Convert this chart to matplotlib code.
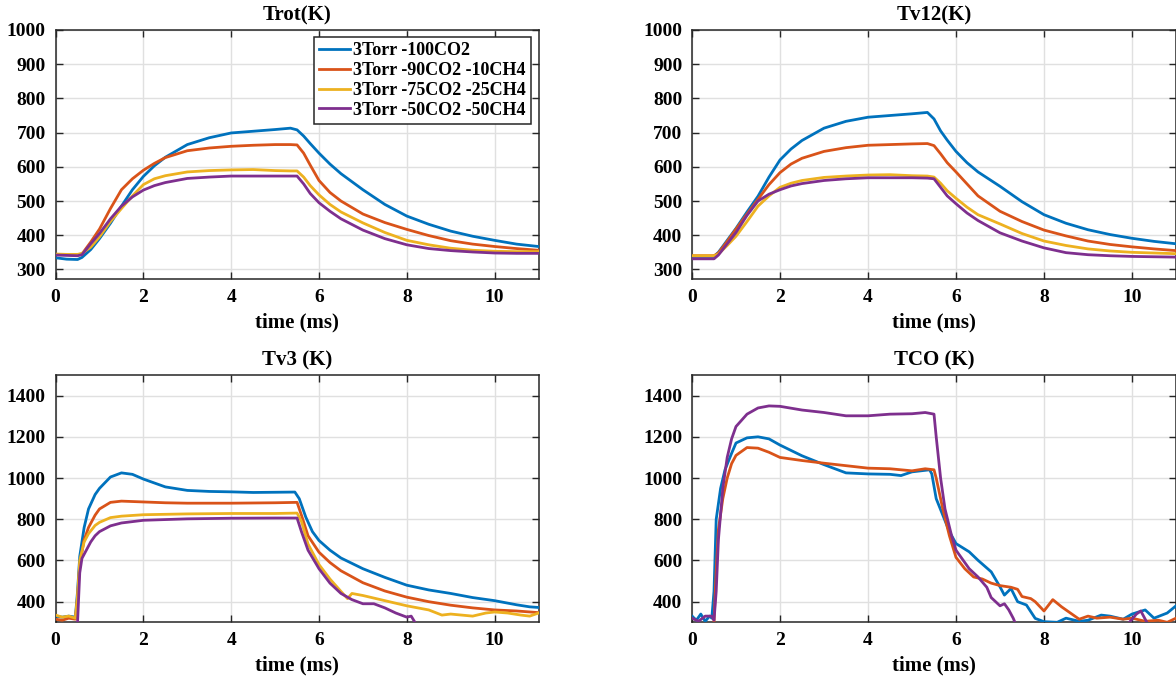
import matplotlib
matplotlib.use("Agg")
import matplotlib.pyplot as plt
import numpy as np

plt.rcParams['font.family'] = ['Liberation Serif', 'DejaVu Serif']
plt.rcParams['font.weight'] = 'bold'

labels = ["3Torr -100CO2", "3Torr -90CO2 -10CH4", "3Torr -75CO2 -25CH4", "3Torr -50CO2 -50CH4"]
colors = ["#0072BD", "#D95319", "#EDB120", "#7E2F8E"]

# ---------------- Trot(K) ----------------
t_rot = [0, 0.25, 0.5, 0.6, 0.8, 1.0, 1.25, 1.5, 1.75, 2.0, 2.25, 2.5, 3.0, 3.5, 4.0, 4.5, 5.0, 5.35,
         5.5, 5.65, 5.8, 6.0, 6.25, 6.5, 7.0, 7.5, 8.0, 8.5, 9.0, 9.5, 10.0, 10.5, 11.0]
rot_100 = [334, 330, 329, 335, 358, 390, 435, 485, 533, 572, 603, 628, 665, 685, 699, 704, 709, 713,
           708, 690, 668, 640, 608, 580, 533, 490, 456, 432, 412, 397, 385, 374, 367]
rot_90 = [344, 343, 343, 345, 380, 418, 478, 533, 565, 590, 610, 627, 647, 655, 660, 663, 665, 665,
          664, 640, 605, 560, 525, 500, 462, 437, 417, 399, 384, 374, 367, 361, 356]
rot_75 = [345, 344, 344, 347, 365, 395, 440, 478, 515, 548, 565, 574, 585, 589, 591, 592, 589, 588,
          588, 570, 545, 518, 490, 468, 436, 408, 385, 372, 362, 356, 353, 352, 352]
rot_50 = [342, 341, 340, 343, 375, 405, 448, 485, 512, 532, 545, 554, 566, 570, 573, 573, 573, 573,
          573, 550, 522, 495, 470, 448, 415, 390, 372, 361, 355, 351, 348, 347, 347]

# ---------------- Tv12(K) ----------------
t_v12 = t_rot
v12_100 = [338, 338, 338, 350, 385, 420, 468, 514, 570, 620, 652, 677, 713, 733, 745, 750, 755, 759,
           740, 705, 678, 645, 612, 585, 543, 498, 460, 435, 416, 402, 391, 382, 375]
v12_90 = [340, 340, 340, 348, 382, 418, 462, 505, 548, 583, 608, 625, 645, 656, 663, 665, 667, 668,
          662, 638, 612, 585, 550, 515, 470, 440, 415, 398, 383, 373, 366, 360, 355]
v12_75 = [340, 340, 340, 345, 370, 397, 440, 485, 515, 540, 552, 560, 569, 573, 576, 577, 574, 573,
          570, 552, 530, 508, 482, 460, 433, 405, 383, 370, 360, 354, 350, 348, 346]
v12_50 = [331, 331, 331, 342, 375, 408, 458, 500, 520, 533, 544, 551, 560, 565, 568, 568, 568, 567,
          565, 540, 515, 492, 465, 443, 407, 383, 363, 349, 343, 340, 338, 337, 336]

# ---------------- Tv3 (K) ----------------
t_v3_100 = [0, 0.15, 0.3, 0.45, 0.5, 0.55, 0.65, 0.75, 0.9, 1.0, 1.25, 1.5, 1.75, 2.0, 2.5, 3.0, 3.5,
            4.0, 4.5, 5.0, 5.45, 5.55, 5.7, 5.85, 6.0, 6.25, 6.5, 7.0, 7.5, 8.0, 8.5, 9.0, 9.5, 10.0,
            10.5, 10.8, 11.0]
v3_100 = [330, 325, 330, 325, 450, 620, 760, 850, 920, 950, 1005, 1025, 1018, 995, 957, 940, 935,
          933, 930, 931, 932, 900, 810, 740, 697, 650, 612, 560, 518, 480, 457, 440, 420, 405,
          385, 375, 372]
t_v3_90 = [0, 0.15, 0.3, 0.45, 0.5, 0.55, 0.65, 0.75, 0.9, 1.0, 1.25, 1.5, 2.0, 2.5, 3.0, 4.0, 5.0,
           5.5, 5.6, 5.75, 6.0, 6.25, 6.5, 7.0, 7.5, 8.0, 8.5, 9.0, 9.5, 10.0, 10.5, 11.0]
v3_90 = [315, 310, 320, 315, 420, 580, 700, 760, 820, 850, 882, 888, 884, 880, 878, 878, 880,
         882, 820, 720, 640, 590, 550, 492, 452, 422, 400, 383, 370, 360, 355, 347]
t_v3_75 = [0, 0.15, 0.3, 0.45, 0.5, 0.55, 0.65, 0.75, 0.9, 1.0, 1.25, 1.5, 2.0, 3.0, 4.0, 5.0, 5.5,
           5.6, 5.75, 6.0, 6.25, 6.5, 6.65, 6.75, 7.0, 7.5, 8.0, 8.5, 8.8, 9.0, 9.5, 9.8, 10.0,
           10.3, 10.6, 10.8, 11.0]
v3_75 = [335, 325, 330, 320, 430, 600, 690, 730, 770, 785, 808, 815, 822, 826, 828, 828, 830,
         790, 680, 580, 510, 450, 415, 440, 430, 405, 380, 360, 335, 340, 330, 345, 350,
         345, 335, 330, 345]
t_v3_50 = [0, 0.45, 0.5, 0.55, 0.6, 0.7, 0.8, 0.9, 1.0, 1.25, 1.5, 2.0, 3.0, 4.0, 5.0, 5.5, 5.6,
           5.75, 6.0, 6.25, 6.5, 6.75, 7.0, 7.25, 7.5, 7.75, 8.0, 8.1, 8.2]
v3_50 = [290, 290, 300, 540, 610, 650, 690, 720, 740, 768, 782, 795, 802, 805, 806, 806, 740,
         650, 560, 490, 440, 410, 390, 390, 370, 345, 325, 330, 295]

# ---------------- TCO (K) ----------------
t_co_100 = [0, 0.1, 0.2, 0.3, 0.4, 0.45, 0.5, 0.55, 0.65, 0.75, 0.9, 1.0, 1.25, 1.5, 1.75, 2.0, 2.5,
            3.0, 3.25, 3.5, 4.0, 4.5, 4.75, 5.0, 5.4, 5.45, 5.55, 5.7, 5.85, 6.0, 6.3, 6.5, 6.8,
            7.0, 7.1, 7.25, 7.4, 7.6, 7.8, 8.0, 8.3, 8.5, 8.8, 9.0, 9.3, 9.5, 9.8, 10.0, 10.3,
            10.5, 10.8, 11.0]
co_100 = [330, 310, 340, 305, 330, 320, 450, 800, 950, 1040, 1120, 1170, 1195, 1200, 1190, 1160,
          1108, 1065, 1045, 1025, 1020, 1018, 1012, 1030, 1040, 1020, 900, 820, 740, 682, 642,
          601, 545, 472, 432, 464, 400, 384, 319, 303, 300, 320, 305, 310, 335, 330, 315, 340,
          360, 320, 345, 380]
t_co_90 = [0, 0.45, 0.5, 0.55, 0.6, 0.7, 0.8, 0.9, 1.0, 1.25, 1.5, 1.75, 2.0, 2.5, 3.0, 3.5, 4.0,
           4.5, 5.0, 5.3, 5.5, 5.55, 5.7, 5.85, 6.0, 6.2, 6.4, 6.6, 6.8, 7.0, 7.25, 7.4, 7.5, 7.7,
           7.8, 8.0, 8.2, 8.4, 8.6, 8.8, 9.0, 9.2, 9.5, 9.8, 10.0, 10.3, 10.6, 10.8, 11.0]
co_90 = [290, 290, 300, 550, 750, 900, 1000, 1070, 1110, 1148, 1145, 1125, 1100, 1085, 1072,
         1060, 1048, 1045, 1035, 1045, 1040, 1000, 850, 720, 615, 560, 520, 510, 490, 478, 470,
         460, 425, 415, 400, 355, 410, 375, 345, 315, 330, 320, 325, 315, 320, 305, 310, 300, 320]
t_co_50 = [0, 0.15, 0.3, 0.45, 0.5, 0.55, 0.6, 0.7, 0.8, 0.9, 1.0, 1.25, 1.5, 1.75, 2.0, 2.5, 3.0,
           3.5, 4.0, 4.5, 5.0, 5.3, 5.5, 5.55, 5.65, 5.75, 5.9, 6.0, 6.3, 6.5, 6.7, 6.8, 7.0, 7.1,
           7.2, 7.3, 7.35, 7.5, 9.9, 10.1, 10.2, 10.35, 10.6, 11.0]
co_50 = [320, 305, 330, 330, 310, 450, 700, 950, 1100, 1190, 1250, 1310, 1340, 1350, 1348, 1330,
         1318, 1302, 1302, 1310, 1312, 1318, 1310, 1200, 1000, 850, 720, 650, 560, 520, 470, 420,
         380, 390, 360, 320, 295, 280, 290, 340, 355, 295, 280, 290]

panels = [
    ("Trot(K)", (272, 1000), [300, 400, 500, 600, 700, 800, 900, 1000],
     [(t_rot, rot_100), (t_rot, rot_90), (t_rot, rot_75), (t_rot, rot_50)], [0, 1, 2, 3]),
    ("Tv12(K)", (272, 1000), [300, 400, 500, 600, 700, 800, 900, 1000],
     [(t_v12, v12_100), (t_v12, v12_90), (t_v12, v12_75), (t_v12, v12_50)], [0, 1, 2, 3]),
    ("Tv3 (K)", (300, 1500), [400, 600, 800, 1000, 1200, 1400],
     [(t_v3_100, v3_100), (t_v3_90, v3_90), (t_v3_75, v3_75), (t_v3_50, v3_50)], [0, 1, 2, 3]),
    ("TCO (K)", (300, 1500), [400, 600, 800, 1000, 1200, 1400],
     [(t_co_100, co_100), (t_co_90, co_90), (t_co_50, co_50)], [0, 1, 3]),
]
xticks = [0, 2, 4, 6, 8, 10]

W, H = 1176, 684
fig = plt.figure(figsize=(W / 100, H / 100), dpi=100)
boxes = [(55.6, 30, 538.5, 279), (692, 30, 1176, 279),
         (55.6, 375, 538.5, 622.3), (692, 375, 1176, 622.3)]

for (title, ylim, yticks, series, idx), (x0, y0, x1, y1) in zip(panels, boxes):
    ax = fig.add_axes([x0 / W, 1 - y1 / H, (x1 - x0) / W, (y1 - y0) / H])
    for (tt, vv), i in zip(series, idx):
        ax.plot(tt, vv, color=colors[i], lw=2, label=labels[i], zorder=3)
    ax.set_xlim(0, 11)
    ax.set_ylim(*ylim)
    ax.set_xticks(xticks)
    ax.set_yticks(yticks)
    ax.grid(True, color='#e0e0e0', lw=1)
    ax.set_axisbelow(True)
    ax.tick_params(direction='in', length=5, width=1, top=True, right=True,
                   labelsize=14, pad=7, color='#262626')
    for s in ax.spines.values():
        s.set_linewidth(1.1)
        s.set_color('#262626')
    for lab in ax.get_xticklabels() + ax.get_yticklabels():
        lab.set_fontweight('bold')
    ax.set_title(title, fontsize=15, fontweight='bold', pad=7)
    ax.set_xlabel("time (ms)", fontsize=15, fontweight='bold', labelpad=5)
    if title == "Trot(K)":
        leg = ax.legend(loc='upper right', bbox_to_anchor=(1 - 7.5 / 483, 1 - 7 / 249),
                        borderaxespad=0, fontsize=13, frameon=True, fancybox=False,
                        framealpha=1, edgecolor='#262626', labelspacing=0.15,
                        borderpad=0.3, handlelength=1.7, handletextpad=0.15)
        leg.get_frame().set_linewidth(1.1)
        for txt in leg.get_texts():
            txt.set_fontweight('bold')

fig.savefig("out.png", dpi=100)
